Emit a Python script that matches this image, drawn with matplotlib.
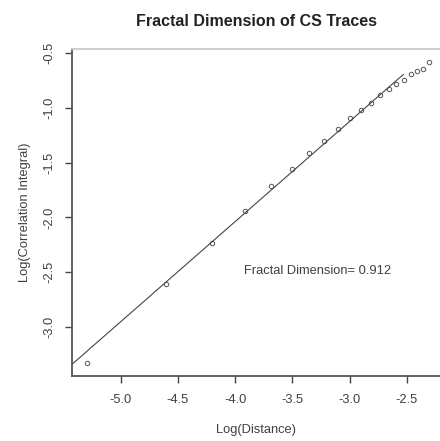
import matplotlib
matplotlib.use("Agg")
import matplotlib.pyplot as plt
import numpy as np

plt.rcParams['font.family'] = ['Liberation Sans', 'DejaVu Sans']

# log of the neighbourhood radius and log of the correlation sum
log_distance = [-5.298, -4.605, -4.200, -3.912, -3.689, -3.507, -3.352,
                -3.219, -3.101, -2.996, -2.900, -2.813, -2.733, -2.659,
                -2.590, -2.526, -2.465, -2.408, -2.354, -2.303]
log_corr = [-3.324, -2.607, -2.232, -1.943, -1.712, -1.560, -1.417,
            -1.302, -1.196, -1.098, -1.023, -0.953, -0.886, -0.831,
            -0.786, -0.743, -0.689, -0.665, -0.643, -0.583]

fractal_dim = 0.912
intercept = 1.61
fit_range = [-5.426, -2.53]

xticks = [-5.0, -4.5, -4.0, -3.5, -3.0, -2.5]
yticks = [-0.5, -1.0, -1.5, -2.0, -2.5, -3.0]

fig = plt.figure(figsize=(4.40, 4.41), dpi=100)
ax = fig.add_axes([72 / 440, 1 - 376 / 441, 368 / 440, 327 / 441])

ax.plot(log_distance, log_corr, linestyle='none', marker='o', markersize=3.2,
        markerfacecolor='none', markeredgecolor='#555555', markeredgewidth=0.7)

# fitted line, slope = fractal dimension
xl = np.array(fit_range)
ax.plot(xl, intercept + fractal_dim * xl, color='#444444', linewidth=0.8)

ax.set_xlim(-5.426, -2.209)
ax.set_ylim(-3.445, -0.465)

ax.set_xticks(xticks)
ax.set_xticklabels([f"{v:.1f}" for v in xticks])
ax.set_yticks(yticks)
ax.set_yticklabels([f"{v:.1f}" for v in yticks])

ax.tick_params(axis='both', direction='out', length=5, width=1.0,
               color='#444444', labelsize=9.3, labelcolor='#404040')
ax.tick_params(axis='x', pad=8)
ax.tick_params(axis='y', pad=7, labelrotation=90)
for lab in ax.get_yticklabels():
    lab.set_verticalalignment('center')
for s in ('left', 'bottom'):
    ax.spines[s].set_color('#555555')
    ax.spines[s].set_linewidth(1.3)
ax.spines['right'].set_visible(False)
ax.spines['top'].set_color('#cccccc')
ax.spines['top'].set_linewidth(1.3)

ax.set_xlabel('Log(Distance)', fontsize=9.3, color='#404040', labelpad=13)
ax.set_ylabel('Log(Correlation Integral)', fontsize=9.3, color='#404040', labelpad=9)

ax.text(-3.28, -2.49, f'Fractal Dimension= {fractal_dim}', fontsize=9.3,
        color='#404040', ha='center', va='center')

fig.text(256.5 / 440, 1 - 21 / 441, 'Fractal Dimension of CS Traces',
         fontsize=11.5, fontweight='bold', color='#222222', ha='center', va='center')

fig.savefig('out.png', dpi=100)
